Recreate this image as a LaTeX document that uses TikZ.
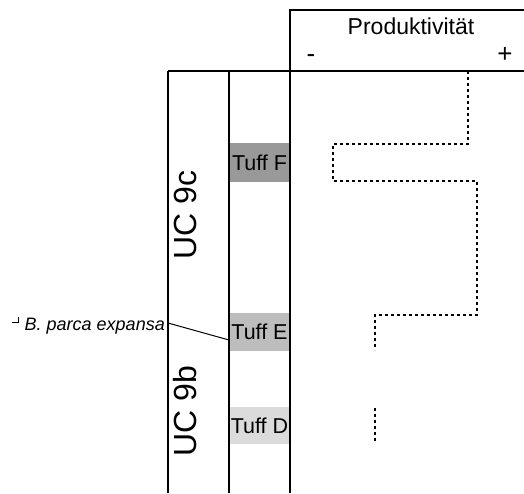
\documentclass[tikz,border=0pt]{standalone}
\usepackage{fontspec}
\setmainfont{Liberation Sans}
\begin{document}
\begin{tikzpicture}[x=1pt,y=-1pt,
  frame/.style={line width=1.3pt,black},
  tuff/.style={inner sep=0pt,minimum width=59pt,text=black,font=\fontsize{21.5}{25}\selectfont},
  zone/.style={rotate=90,inner sep=0pt,font=\fontsize{32}{36}\selectfont},
  curve/.style={line width=1.7pt,dash pattern=on 3pt off 3pt}]
\useasboundingbox (0,0) rectangle (524,493);

% shaded tuff layers
\node[tuff,fill=black!40,minimum height=39pt] (tuffF) at (259.5,162.5) {Tuff F};
\node[tuff,fill=black!26,minimum height=38pt] (tuffE) at (259.5,332) {Tuff E};
\node[tuff,fill=black!14,minimum height=37pt] (tuffD) at (259.5,425.5) {Tuff D};

% column frame
\coordinate (topL) at (290,10);
\coordinate (topR) at (524,10);
\coordinate (midL) at (168,71);
\coordinate (midR) at (524,71);
\draw[frame] (topR) -- (topL) -- (290,493);
\draw[frame] (midL) -- (midR);
\draw[frame] (midL) -- (168,493);
\draw[frame] (229,71) -- (229,493);

% header
\node[font=\fontsize{23}{27}\selectfont,anchor=base] (head) at (411,34) {Produktivität};
\node[font=\fontsize{26}{30}\selectfont,anchor=base] (minus) at (311,62) {-};
\node[font=\fontsize{26}{30}\selectfont,anchor=base] (plus) at (505,62) {+};

% zone labels
\node[zone] (uc9c) at (185,215) {UC 9c};
\node[zone] (uc9b) at (185,411) {UC 9b};

% biostratigraphic marker
\node[anchor=base east,inner sep=0pt,font=\fontsize{18}{21}\selectfont\itshape] (bpe) at (165,330) {B. parca expansa};
\coordinate (bpeEnd) at (168,323);
\coordinate (tuffEdge) at (229,340);
\draw[line width=1pt] (bpeEnd) -- (tuffEdge);
\coordinate (tick) at (18,322);
\draw[line width=1pt] ([xshift=-6pt]tick) -- (tick) -- ([yshift=5pt]tick);

% productivity curve
\coordinate (p0) at (468,71);
\coordinate (p1) at (375,350);
\coordinate (p2) at (375,408);
\coordinate (p3) at (375,442);
\draw[curve] (p0) -- (468,144) -- (333,144) -- (333,181) -- (477,181) -- (477,315) -- (375,315) -- (p1);
\draw[curve] (p2) -- (p3);
\end{tikzpicture}
\end{document}
